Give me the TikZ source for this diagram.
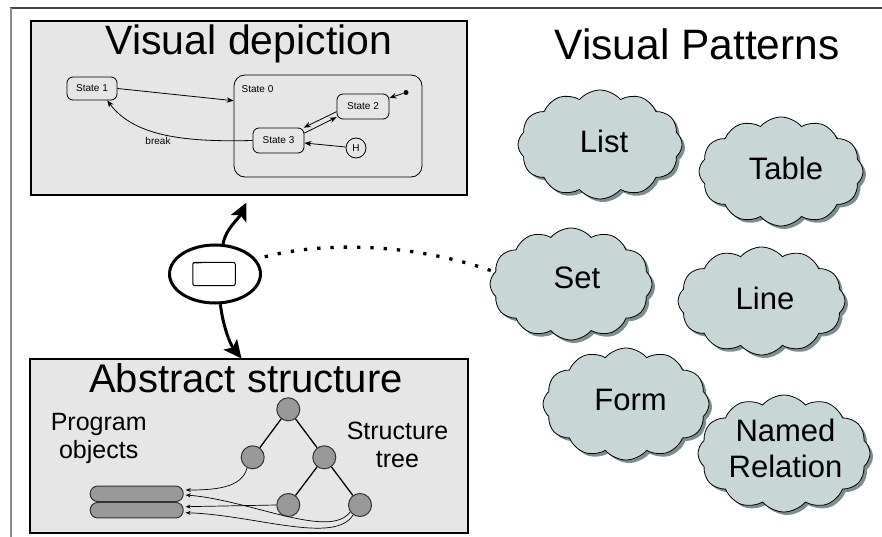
\documentclass[tikz,border=0pt]{standalone}
\usepackage{fontspec}
\setmainfont{Liberation Sans}
\usetikzlibrary{arrows.meta,shapes.symbols,shapes.geometric,shadows}
\definecolor{panelgray}{RGB}{230,230,230}
\definecolor{nodegray}{RGB}{153,153,153}
\definecolor{cloudfill}{RGB}{200,214,214}
\definecolor{cloudshade}{RGB}{125,142,142}
\definecolor{framegray}{RGB}{70,70,70}
\begin{document}
\begin{tikzpicture}[x=1pt, y=-1pt,
  panel/.style={draw=black, line width=2.5pt, fill=panelgray, inner sep=0pt},
  heading/.style={font=\fontsize{41}{48}\selectfont, inner sep=0pt, anchor=base},
  stbox/.style={draw, line width=0.8pt, rounded corners=6pt, fill=panelgray,
    font=\fontsize{10}{12}\selectfont, inner sep=0pt, minimum width=51pt, minimum height=25pt},
  small/.style={font=\fontsize{10}{12}\selectfont, inner sep=0pt},
  sarrow/.style={-{Stealth[length=7pt,width=5.5pt]}, line width=0.8pt},
  bigarrow/.style={-{Stealth[length=18pt,width=17pt,inset=4pt]}, line width=3pt},
  treenode/.style={circle, draw=black!80, line width=1pt, fill=nodegray, minimum size=23pt, inner sep=0pt},
  pill/.style={draw=black!80, line width=1pt, fill=nodegray, rounded corners=7.5pt,
    minimum width=93pt, minimum height=15.5pt, inner sep=0pt},
  tarrow/.style={-{Stealth[length=5pt,width=4pt]}, line width=0.7pt},
  patcloud/.style={cloud, cloud puffs=12, cloud puff arc=100, cloud ignores aspect,
    draw=black, line width=0.8pt, fill=cloudfill, minimum width=164pt, minimum height=109pt,
    inner sep=0pt, drop shadow={shadow xshift=3pt, shadow yshift=-3pt, fill=cloudshade, opacity=1}},
  cloudtext/.style={font=\fontsize{31}{35.6}\selectfont, align=center, inner sep=0pt},
  midtext/.style={font=\fontsize{25}{28}\selectfont, align=center, inner sep=0pt},
  dotline/.style={line width=3.3pt, dash pattern=on 3.3pt off 10pt}]

\useasboundingbox (0,0) rectangle (882,537);

% page frame
\draw[framegray, line width=1.4pt] (10,8) -- (882,8);
\draw[black!45, line width=1.8pt] (11,8) -- (11,537);

% panels and headings
\node[panel, minimum width=436pt, minimum height=174pt] (toppanel) at (249,108) {};
\node[heading] (toptitle) at (249,55) {Visual depiction};
\node[panel, minimum width=438pt, minimum height=174pt] (botpanel) at (249,446) {};
\node[heading, font=\fontsize{40}{48}\selectfont] (bottitle) at (246,392.5) {Abstract structure};
\node[heading, font=\fontsize{42.5}{48}\selectfont] (pattitle) at (697,60) {Visual Patterns};

% statechart
\node[stbox, minimum width=50pt, minimum height=23pt] (s1) at (92,88.5) {State 1};
\node[draw, line width=0.8pt, rounded corners=11pt, fill=panelgray,
      minimum width=188pt, minimum height=102pt] (s0) at (328,126) {};
\node[small, anchor=base west] (s0lbl) at (241.5,92.5) {State 0};
\node[stbox, minimum width=52pt] (s2) at (363,106.5) {State 2};
\node[stbox] (s3) at (278.5,140.5) {State 3};
\node[circle, draw, line width=0.8pt, fill=panelgray, minimum size=20pt, inner sep=0pt,
      font=\fontsize{10}{12}\selectfont] (h) at (356,148) {H};
\node[circle, fill=black, minimum size=5pt, inner sep=0pt] (init) at (406,92.5) {};

\draw[sarrow] (s1.east) -- (s0.165);
\draw[sarrow] (s3.west) .. controls (190,142) and (135,138) .. (s1.-38);
\node[small] (brk) at (158,140.5) {break};
\draw[sarrow] (s2.191) -- (s3.27);
\draw[sarrow] (s3.16) -- (s2.202);
\draw[sarrow] (h) -- (s3);
\draw[sarrow] (init) -- (s2);

% visual element in the middle
\node[ellipse, draw, line width=3pt, fill=white, minimum width=91pt, minimum height=58pt, inner sep=0pt] (ell) at (215,274) {};
\node[draw, line width=1pt, rounded corners=2pt, fill=white, minimum width=42.5pt,
      minimum height=23.3pt, inner sep=0pt] (mini) at (214,274) {};
\node[font=\fontsize{2.5}{3}\selectfont, anchor=north west, inner sep=0pt] (minilbl)
      at ([shift={(1.2pt,-1.2pt)}]mini.north west) {State 0};

\coordinate (uptip) at (246.5,202.5);
\coordinate (downtip) at (241.5,358.5);
\draw[bigarrow] (ell.75) .. controls (226,228) and (238,220) .. (uptip);
\draw[bigarrow] (ell.-80) .. controls (223,326) and (230,344) .. (downtip);

% visual patterns
\node[patcloud] (list) at (600,144.5) {};
\node[cloudtext] (listtxt) at (604,141) {List};
\node[patcloud] (table) at (781,171.5) {};
\node[cloudtext] (tabletxt) at (786,168.5) {Table};
\node[patcloud, minimum width=162pt, minimum height=112pt] (set) at (571,284) {};
\node[cloudtext] (settxt) at (577,278) {Set};
\node[patcloud, minimum width=167pt, minimum height=108pt] (line) at (761.5,301) {};
\node[cloudtext] (linetxt) at (765,298.3) {Line};
\node[patcloud, minimum width=166pt, minimum height=112pt] (form) at (626,404) {};
\node[cloudtext] (formtxt) at (630.5,399.5) {Form};
\node[patcloud, minimum width=172pt, minimum height=117pt] (named) at (784,453.5) {};
\node[cloudtext] (namedtxt) at (785.5,448.7) {Named\\Relation};

\draw[dotline, shorten <=9pt] (ell.20) .. controls (330,240) and (420,245) .. (set.171);

% abstract structure
\node[midtext] (progtxt) at (98.7,438) {Program\\objects};
\node[midtext] (treetxt) at (397.5,444.5) {Structure\\tree};

\node[treenode] (root) at (288.3,409.3) {};
\node[treenode] (tl) at (252.7,457.3) {};
\node[treenode] (tr) at (324.3,457.3) {};
\node[treenode] (trl) at (288.3,505) {};
\node[treenode] (trr) at (360,505) {};
\draw[line width=1.3pt] (root) -- (tl);
\draw[line width=1.3pt] (root) -- (tr);
\draw[line width=1.3pt] (tr) -- (trl);
\draw[line width=1.3pt] (tr) -- (trr);

\node[pill] (po1) at (136.7,493.8) {};
\node[pill] (po2) at (136.7,510.2) {};

\draw[tarrow] (tl.-118) .. controls (242,488) and (215,490) .. ([shift={(2pt,3.8pt)}]po1.east);
\draw[tarrow] (trr.-145) .. controls (330,540) and (250,500) .. ([shift={(2pt,-1.2pt)}]po1.east);
\draw[tarrow] (trl.west) -- ([shift={(2pt,3.5pt)}]po2.east);
\draw[tarrow] (trr.-125) .. controls (335,545) and (255,515) .. ([shift={(2pt,-2.5pt)}]po2.east);
\end{tikzpicture}
\end{document}
